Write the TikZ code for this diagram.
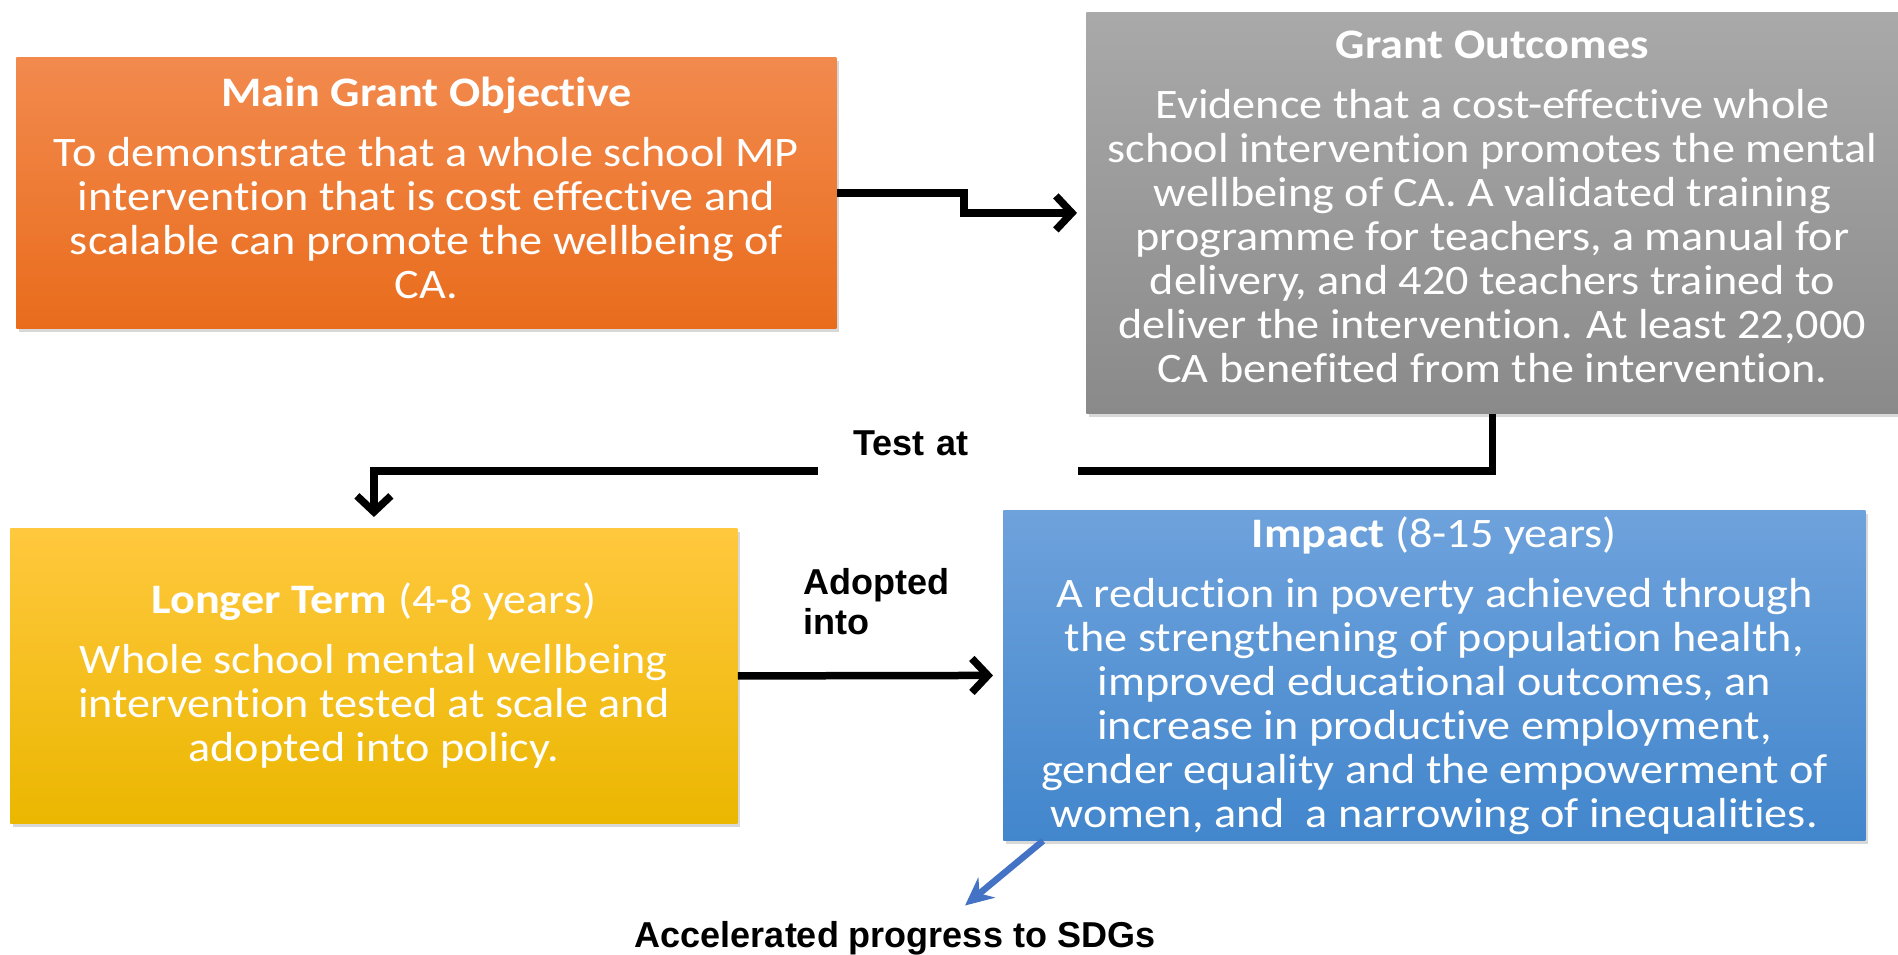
\documentclass[tikz,border=0pt]{standalone}
\usepackage{fontspec}
\setmainfont{Carlito}[FakeStretch=1.1, Ligatures=CommonOff]
\newfontfamily\arialfont{Liberation Sans}
\usepackage{tikz}
\usetikzlibrary{arrows.meta,shadows}
\definecolor{objtop}{HTML}{F28A4E}
\definecolor{objbot}{HTML}{E96C1C}
\definecolor{outtop}{HTML}{A9A9A9}
\definecolor{outbot}{HTML}{8A8A8A}
\definecolor{longtop}{HTML}{FFC83E}
\definecolor{longbot}{HTML}{EBB700}
\definecolor{imptop}{HTML}{6EA2DC}
\definecolor{impbot}{HTML}{4286CC}
\definecolor{sdgblue}{HTML}{4472C4}
\newcommand{\boxfont}{\fontsize{21}{22}\selectfont}
\newcommand{\head}[1]{\textbf{#1}\\[8pt]}

\begin{document}
\begin{tikzpicture}[x=0.5pt, y=-0.5pt,
  box/.style={anchor=north west, inner sep=0pt, align=center, text=white, font=\boxfont,
              drop shadow={shadow xshift=1.5pt, shadow yshift=-2pt, opacity=0.3}},
  conn/.style={line width=3.75pt, -{Straight Barb[length=8pt, width=17pt]}},
  lbl/.style={inner sep=0pt, font=\arialfont\bfseries\fontsize{18}{20}\selectfont}]
\fill[white] (0,0) rectangle (1898,954);
\useasboundingbox (0,0) rectangle (1898,954);
\node[box, top color=objtop, bottom color=objbot, minimum width=410pt, minimum height=135.5pt, text depth=5pt] (obj) at (16,57)
  {\head{Main Grant Objective}To demonstrate that a whole school MP\\intervention that is cost effective and\\scalable can promote the wellbeing of\\CA.};
\node[box, top color=outtop, bottom color=outbot, minimum width=406pt, minimum height=200.5pt, text depth=6pt] (out) at (1086,12)
  {\head{Grant Outcomes}Evidence that a cost-effective whole\\school intervention promotes the mental\\wellbeing of CA. A validated training\\programme for teachers, a manual for\\delivery, and 420 teachers trained to\\deliver the intervention. At least 22,000\\CA benefited from the intervention.};
\node[box, top color=longtop, bottom color=longbot, minimum width=363.5pt, minimum height=147.5pt] (long) at (10,528)
  {\head{Longer Term \mdseries(4-8 years)}Whole school mental wellbeing\\intervention tested at scale and\\adopted into policy.};
\node[box, top color=imptop, bottom color=impbot, minimum width=431pt, minimum height=165pt] (imp) at (1003,510)
  {\head{Impact \mdseries(8-15 years)}A reduction in poverty achieved through\\the strengthening of population health,\\improved educational outcomes, an\\increase in productive employment,\\gender equality and the empowerment of\\women, and~ a narrowing of inequalities.};
\draw[conn, shorten >=4.5pt] (obj.east) -- ++(127,0) |- (out.west);
\draw[conn, shorten >=5.5pt] (out.south) -- ++(0,57) -| (long.north);
\node[lbl, fill=white, anchor=north west, text width=95pt, inner xsep=17.5pt, minimum height=38pt, align=left] (test) at (818,405) {Test at};
\draw[conn, shorten >=5pt] (long.east) -- (imp.west);
\node[lbl, align=left, anchor=north west] (adopt) at (803,568) {Adopted\\into};
\node[lbl, anchor=base] (sdg) at (895,947) {Accelerated progress to SDGs};
\draw[line width=3.25pt, sdgblue, -{Stealth[length=14pt, width=13pt]}] ([xshift=20pt]imp.south west) -- ([xshift=35pt, yshift=7.5pt]sdg.north);
\end{tikzpicture}
\end{document}
